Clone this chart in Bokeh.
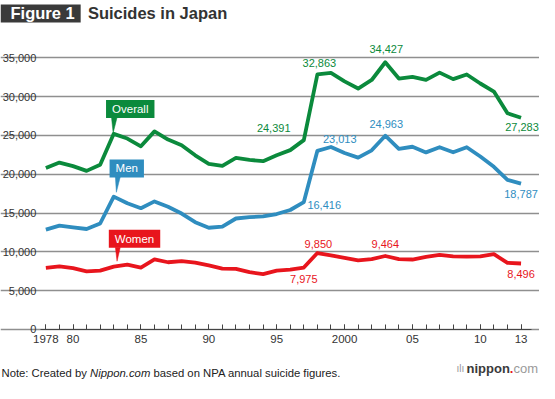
from bokeh.plotting import figure
from bokeh.models import Label, FixedTicker, NumeralTickFormatter, Range1d
from bokeh.embed import file_html
from bokeh.resources import INLINE

# ---- data ----
years = list(range(1978, 2014))
overall = [20788, 21503, 21048, 20434, 21228, 25202, 24596, 23599, 25524, 24460,
           23742, 22436, 21346, 21084, 22104, 21851, 21679, 22445, 23104, 24391,
           32863, 33048, 31957, 31042, 32143, 34427, 32325, 32552, 32155, 33093,
           32249, 32845, 31690, 30651, 27858, 27283]
men = [12859, 13386, 13155, 12942, 13654, 17116, 16251, 15624, 16497, 15802,
       14934, 13818, 13102, 13242, 14296, 14468, 14560, 14874, 15393, 16416,
       23013, 23512, 22727, 22144, 23080, 24963, 23272, 23540, 22813, 23478,
       22831, 23472, 22283, 20955, 19273, 18787]
women = [7929, 8117, 7893, 7492, 7574, 8086, 8345, 7975, 9027, 8658,
         8808, 8618, 8244, 7842, 7808, 7383, 7119, 7571, 7711, 7975,
         9850, 9536, 9230, 8898, 9063, 9464, 9053, 9012, 9342, 9615,
         9418, 9373, 9407, 9696, 8585, 8496]
series_names = ["Overall", "Men", "Women"]
major_years = [1978, 1980, 1985, 1990, 1995, 2000, 2005, 2010, 2013]
major_labels = ["1978", "80", "85", "90", "95", "2000", "05", "10", "13"]
y_ticks = [0, 5000, 10000, 15000, 20000, 25000, 30000, 35000]
labeled_years = [1997, 1998, 2003, 2013]

# ---- layout (reference pixels scaled to the canvas) ----
W, H = 539, 383
SX, SY = W / 555, H / 399
PPX = (536 - 46.7) * SX / 35
PPY = (342.7 - 59.7) * SY / 35000
x_start = 1978 - 46.7 * SX / PPX
x_end = x_start + W / PPX
y_start = -(H - 342.7 * SY) / PPY
y_end = y_start + H / PPY


def dx_(cx):
    return x_start + cx / PPX


def sx(ref_x):
    return ref_x * SX


def sy(ref_y):
    return H - ref_y * SY


PLOT_L, PLOT_R = sx(41), sx(547)

GREEN, BLUE, RED = "#0b8a3c", "#2f8dbf", "#e8151d"
FONT = "Liberation Sans"

p = figure(width=W, height=H, title=None,
           x_range=Range1d(x_start, x_end), y_range=Range1d(y_start, y_end),
           output_backend="svg", toolbar_location=None,
           min_border_left=0, min_border_right=0, min_border_top=0, min_border_bottom=0)
p.outline_line_color = None
p.background_fill_color = "white"
p.border_fill_color = "white"

# x axis, drawn at y = 0
p.xaxis.fixed_location = 0
p.xaxis.bounds = (dx_(PLOT_L), dx_(PLOT_R))
p.xaxis.ticker = FixedTicker(ticks=major_years, minor_ticks=years)
p.xaxis.major_label_overrides = {y: l for y, l in zip(major_years, major_labels)}
p.xaxis.major_tick_in = 5
p.xaxis.major_tick_out = 0
p.xaxis.minor_tick_in = 5
p.xaxis.minor_tick_out = 0
p.xaxis.axis_line_color = "#444444"
p.xaxis.major_tick_line_color = "#444444"
p.xaxis.minor_tick_line_color = "#444444"
p.xaxis.major_label_standoff = 6
p.xaxis.major_label_text_font = FONT
p.xaxis.major_label_text_font_size = "11.5px"
p.xaxis.major_label_text_color = "#333333"
p.xgrid.visible = False

# y axis, drawn at the left edge of the grid
p.yaxis.fixed_location = dx_(PLOT_L)
p.yaxis.ticker = FixedTicker(ticks=y_ticks)
p.yaxis.formatter = NumeralTickFormatter(format="0,0")
p.yaxis.axis_line_color = None
p.yaxis.major_tick_line_color = None
p.yaxis.minor_tick_line_color = None
p.yaxis.major_tick_in = 0
p.yaxis.major_tick_out = 0
p.yaxis.minor_tick_in = 0
p.yaxis.minor_tick_out = 0
p.yaxis.major_label_standoff = 4
p.yaxis.major_label_text_font = FONT
p.yaxis.major_label_text_font_size = "11px"
p.yaxis.major_label_text_color = "#333333"
p.ygrid.bounds = (dx_(PLOT_L), dx_(PLOT_R))
p.ygrid.grid_line_color = "#8f8f8f"
p.ygrid.grid_line_width = 1.3

series = [(overall, GREEN), (men, BLUE), (women, RED)]
for vals, col in series:
    p.line(years, vals, line_color=col, line_width=3.8, line_join="round")

# value labels: offsets in reference pixels (dx right, dy down)
value_offsets = [
    [(-31, -13), (2, -11.5), (1, -13.5), (1, 9.5)],
    [(21, 3.3), (23, -12), (1, -12), (0, 11)],
    [(0, 12.4), (1, -9.5), (0, -12.5), (0, 10.5)],
]
for (vals, col), offs in zip(series, value_offsets):
    for yr, (ox, oy) in zip(labeled_years, offs):
        v = vals[years.index(yr)]
        p.add_layout(Label(x=yr, y=v, text=f"{v:,}", x_offset=ox * SX, y_offset=-oy * SY,
                           text_align="center", text_baseline="middle", text_color=col,
                           text_font=FONT, text_font_size="11px"))

# callouts at 1983
callout_year = 1983
box_center = [(17, -26), (13.4, -29.4), (21.4, -29.1)]
pointer = [
    [(-2.3, -17), (3.4, -17), (-0.6, -1)],
    [(1.7, -20.5), (6.7, -20.5), (2.7, -4.5)],
    [(1.7, -20), (6.7, -20), (3.4, -5.7)],
]
for name, (vals, col), (cx, cy), tri in zip(series_names, series, box_center, pointer):
    v = vals[years.index(callout_year)]
    xs = [callout_year + ox * SX / PPX for ox, oy in tri]
    ys = [v - oy * SY / PPY for ox, oy in tri]
    p.patch(xs, ys, fill_color=col, line_color=col, line_width=0.5)
    # padding order: (left, right, top, bottom)
    p.add_layout(Label(x=callout_year, y=v, text=name, x_offset=cx * SX, y_offset=-cy * SY,
                       text_align="center", text_baseline="middle", text_color="white",
                       text_font=FONT, text_font_size="11.5px",
                       background_fill_color=col, padding=(6, 6, 3, 3)))

# title (box anchored at its left edge; text starts after left padding)
p.add_layout(Label(x=0, y=sy(13.5), x_units="screen", y_units="screen", text="Figure 1",
                   text_align="left", text_baseline="middle", text_color="white",
                   text_font=FONT, text_font_style="bold", text_font_size="16.5px",
                   background_fill_color="#3a3a3a", padding=(10, 6, 0, 0)))
p.add_layout(Label(x=sx(90), y=sy(13.5), x_units="screen", y_units="screen",
                   text="Suicides in Japan", text_align="left", text_baseline="middle",
                   text_color="#333333", text_font=FONT, text_font_style="bold",
                   text_font_size="16.5px"))

# footer note
fy = sy(388)
fx = sx(1)
FS = 11.3
w_prefix = 7.837 * FS
w_site = 5.335 * FS
w_space = 0.278 * FS
p.add_layout(Label(x=fx, y=fy, x_units="screen", y_units="screen", text="Note: Created by",
                   text_align="left", text_baseline="middle", text_color="#222222",
                   text_font=FONT, text_font_size=f"{FS}px"))
p.add_layout(Label(x=fx + w_prefix, y=fy, x_units="screen", y_units="screen", text="Nippon.com",
                   text_align="left", text_baseline="middle", text_color="#222222",
                   text_font=FONT, text_font_style="italic", text_font_size=f"{FS}px"))
p.add_layout(Label(x=fx + w_prefix + w_site + w_space, y=fy, x_units="screen", y_units="screen",
                   text="based on NPA annual suicide figures.",
                   text_align="left", text_baseline="middle", text_color="#222222",
                   text_font=FONT, text_font_size=f"{FS}px"))

# logo
ly = sy(383)
lx = 466
p.add_layout(Label(x=lx - 10, y=ly, x_units="screen", y_units="screen", text="ılı",
                   text_align="left", text_baseline="middle", text_color="#999999",
                   text_font=FONT, text_font_size="10px"))
p.add_layout(Label(x=lx, y=ly, x_units="screen", y_units="screen", text="nippon",
                   text_align="left", text_baseline="middle", text_color="#3a3a3a",
                   text_font=FONT, text_font_style="bold", text_font_size="13px"))
p.add_layout(Label(x=lx + 43.3, y=ly, x_units="screen", y_units="screen", text=".",
                   text_align="left", text_baseline="middle", text_color=RED,
                   text_font=FONT, text_font_style="bold", text_font_size="13px"))
p.add_layout(Label(x=lx + 46.9, y=ly, x_units="screen", y_units="screen", text="com",
                   text_align="left", text_baseline="middle", text_color="#9a9a9a",
                   text_font=FONT, text_font_size="13px"))

open("out.html", "w").write(file_html(p, INLINE))
